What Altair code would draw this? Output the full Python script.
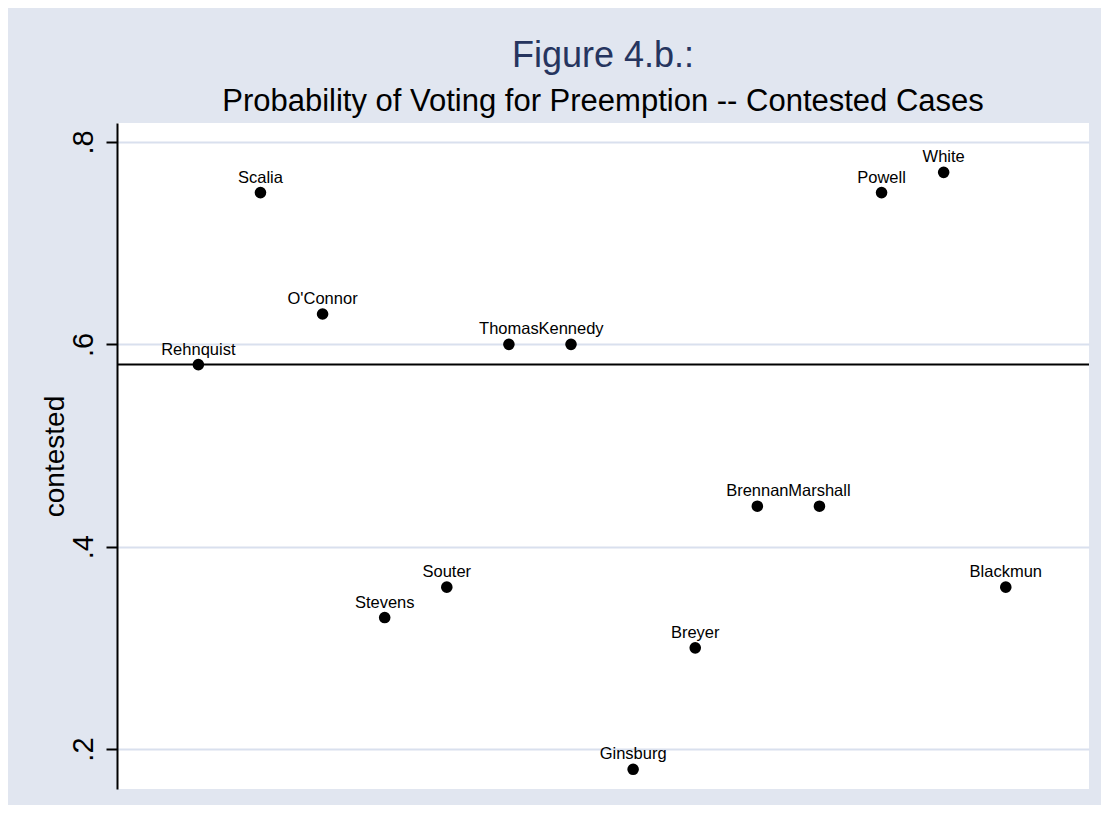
import altair as alt
import pandas as pd

# ---- data ----
justices = ["Rehnquist", "Scalia", "O'Connor", "Stevens", "Souter", "Thomas",
            "Kennedy", "Ginsburg", "Breyer", "Brennan", "Marshall", "Powell",
            "White", "Blackmun"]
order = list(range(1, 15))
contested = [0.58, 0.75, 0.63, 0.33, 0.36, 0.60, 0.60, 0.18, 0.30, 0.44,
             0.44, 0.75, 0.77, 0.36]
ref_value = [0.58]
y_ticks = [0.2, 0.4, 0.6, 0.8]

title_text = "Figure 4.b.:"
subtitle_text = "Probability of Voting for Preemption -- Contested Cases"
y_title = "contested"

df = pd.DataFrame({"justice": justices, "order": order, "contested": contested})
ref_df = pd.DataFrame({"ref": ref_value})

FONT = "Liberation Sans"
W, H = 972, 666

xscale = alt.Scale(domain=[-0.31, 15.34], nice=False, zero=False)
yscale = alt.Scale(domain=[0.1605, 0.8188], nice=False, zero=False)

yaxis = alt.Axis(
    values=y_ticks,
    labelExpr="'.' + toString(round(datum.value * 10))",
    grid=True, gridColor="#d9e0ee", gridWidth=1.8,
    domainColor="black", domainWidth=2,
    tickColor="black", tickWidth=2, tickSize=11,
    labelFont=FONT, labelFontSize=29, labelColor="black",
    labelAngle=-90, labelAlign="center", labelBaseline="alphabetic",
    labelPadding=14,
    title=y_title, titleFont=FONT, titleFontSize=28, titleFontWeight="normal",
    titleColor="black", titleAngle=-90, titleX=-54, titleBaseline="alphabetic",
)

rule = alt.Chart(ref_df).mark_rule(color="black", strokeWidth=2).encode(
    y=alt.Y("ref:Q", scale=yscale, axis=yaxis)
)

points = alt.Chart(df).mark_circle(color="black", opacity=1, size=135).encode(
    x=alt.X("order:Q", scale=xscale, axis=None),
    y=alt.Y("contested:Q", scale=yscale, axis=yaxis),
)

labels = alt.Chart(df).mark_text(
    font=FONT, fontSize=16.5, color="black", align="center",
    baseline="alphabetic", dy=-10,
).encode(
    x=alt.X("order:Q", scale=xscale, axis=None),
    y=alt.Y("contested:Q", scale=yscale, axis=yaxis),
    text="justice:N",
)

chart = alt.layer(rule, points, labels).properties(
    width=W, height=H,
    autosize=alt.AutoSizeParams(type="none"),
    padding={"left": 109, "top": 115, "right": 12, "bottom": 16},
    background="#e1e6f0",
    title=alt.TitleParams(
        text=title_text, subtitle=subtitle_text,
        font=FONT, fontSize=36, fontWeight="normal", color="#26355f",
        subtitleFont=FONT, subtitleFontSize=31, subtitleColor="black",
        subtitleFontWeight="normal",
        anchor="middle", offset=5, subtitlePadding=12,
    ),
).configure_view(fill="white", stroke=None)

chart.save("out.html", embed_options={"renderer": "svg", "actions": False})
